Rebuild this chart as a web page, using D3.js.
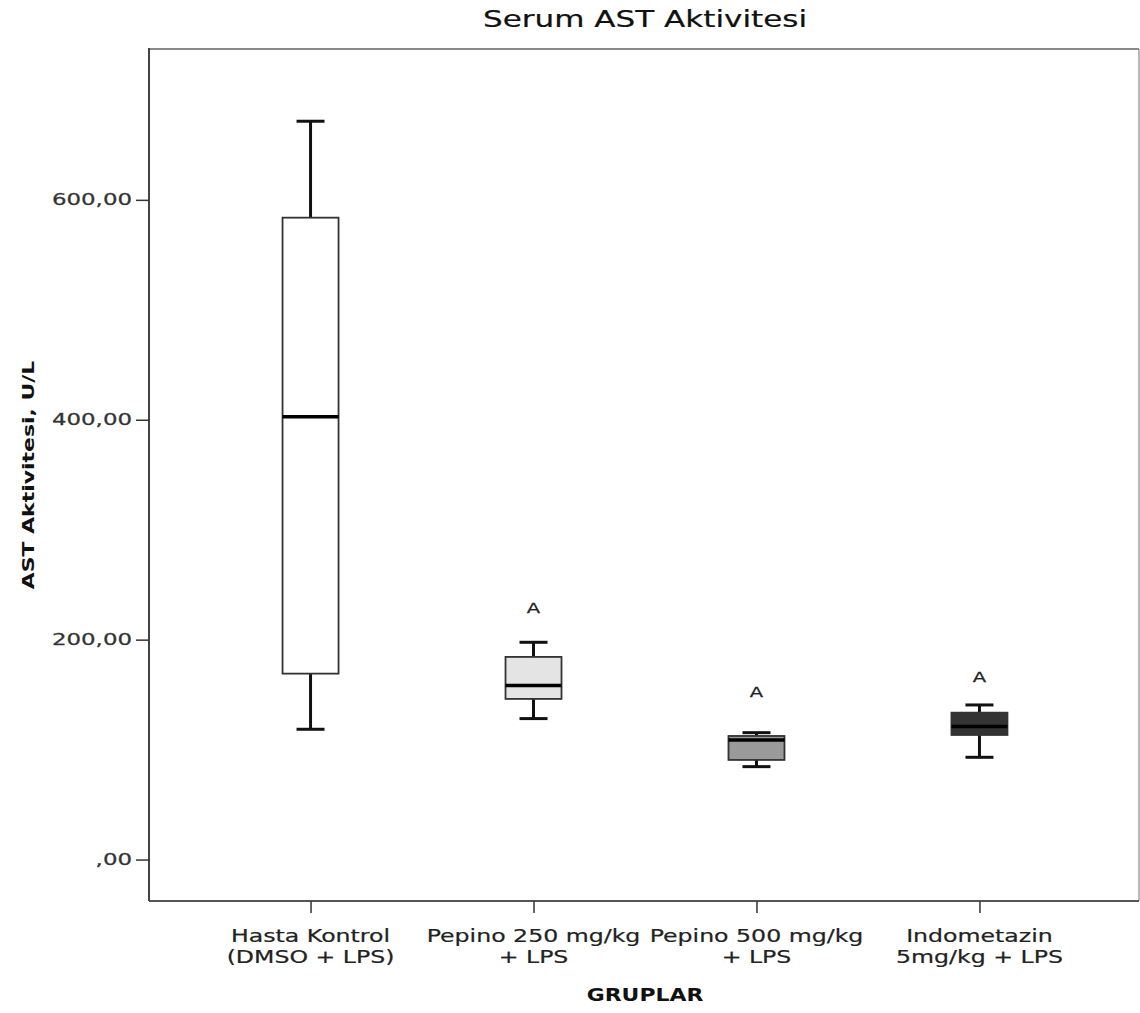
<!DOCTYPE html>
<html>
<head>
<meta charset="utf-8">
<script src="https://cdn.jsdelivr.net/npm/d3@7"></script>
<style>
  html, body { margin: 0; padding: 0; background: #fff; }
  svg { display: block; }
  text { font-family: "DejaVu Sans", Verdana, sans-serif; }
</style>
</head>
<body>
<svg id="chart" width="1140" height="1013"></svg>
<script>
// ---------------- data ----------------
const groups = ["Hasta Kontrol (DMSO + LPS)", "Pepino 250 mg/kg + LPS", "Pepino 500 mg/kg + LPS", "Indometazin 5mg/kg + LPS"];
const groupLabelLines = [["Hasta Kontrol", "(DMSO + LPS)"], ["Pepino 250 mg/kg", "+ LPS"], ["Pepino 500 mg/kg", "+ LPS"], ["Indometazin", "5mg/kg + LPS"]];
const whiskerLow  = [118.5, 128.2, 84.5, 93.0];
const q1          = [169.1, 146.1, 90.6, 113.3];
const median      = [402.8, 158.2, 108.8, 120.9];
const q3          = [583.8, 184.3, 112.4, 133.6];
const whiskerHigh = [671.5, 197.6, 115.4, 140.6];
const sigLabels   = ["", "A", "A", "A"];
const sigLabelAt  = [null, 229, 152, 166];
const yTicks      = [0, 200, 400, 600];
const yTickLabels = [",00", "200,00", "400,00", "600,00"];
const titleText   = "Serum AST Aktivitesi";
const yTitle      = "AST Aktivitesi, U/L";
const xTitle      = "GRUPLAR";

// ---------------- styles ----------------
const boxFills = ["#ffffff", "#e4e4e4", "#9a9a9a", "#333333"];

const svg = d3.select("#chart");
const frame = { left: 149, right: 1139, top: 49, bottom: 901 };

const x = d3.scalePoint().domain(groups).range([150, 1140]).padding(0.72);
const y = d3.scaleLinear().domain([-37.7, 737.2]).range([901, 49]);
const fill = d3.scaleOrdinal().domain(groups).range(boxFills);

// helper: text with horizontal stretch (the reference is rendered wide)
function label(parent, str, px, py, o) {
  const g = parent.append("g")
    .attr("transform", `translate(${px},${py})` + (o.rotate ? ` rotate(${o.rotate})` : ""));
  const t = g.append("text")
    .attr("x", 0).attr("y", 0)
    .attr("text-anchor", o.anchor || "middle")
    .attr("font-size", o.size)
    .attr("font-weight", o.weight || "normal")
    .attr("fill", o.color || "#111")
    .attr("stroke", o.color || "#111")
    .attr("stroke-width", o.stroke || 0)
    .attr("dominant-baseline", o.baseline || "auto")
    .text(str);
  t.attr("transform", `scale(${o.sx || 1},1)`);
  return t;
}

// frame
svg.append("line").attr("x1", frame.left).attr("x2", frame.right).attr("y1", frame.top).attr("y2", frame.top)
  .attr("stroke", "#8a8a8a").attr("stroke-width", 2);
svg.append("line").attr("x1", frame.right).attr("x2", frame.right).attr("y1", frame.top).attr("y2", frame.bottom)
  .attr("stroke", "#8a8a8a").attr("stroke-width", 1.2);
svg.append("line").attr("x1", frame.left).attr("x2", frame.right).attr("y1", frame.bottom).attr("y2", frame.bottom)
  .attr("stroke", "#555").attr("stroke-width", 2);
svg.append("line").attr("x1", frame.left).attr("x2", frame.left).attr("y1", frame.top - 1).attr("y2", frame.bottom)
  .attr("stroke", "#444").attr("stroke-width", 2);

// y axis ticks + labels
const yAxis = svg.append("g").attr("transform", `translate(${frame.left},0)`)
  .call(d3.axisLeft(y).tickValues(yTicks).tickSize(13).tickFormat(""));
yAxis.select(".domain").remove();
yAxis.selectAll(".tick line").attr("stroke", "#333").attr("stroke-width", 1.5);
yTicks.forEach((v, i) => {
  label(svg, yTickLabels[i], 132, y(v), { size: 16, anchor: "end", sx: 1.43, baseline: "central", color: "#333", stroke: 0.25 });
});

// x axis ticks + labels
const xAxis = svg.append("g").attr("transform", `translate(0,${frame.bottom})`)
  .call(d3.axisBottom(x).tickSize(12).tickFormat(""));
xAxis.select(".domain").remove();
xAxis.selectAll(".tick line").attr("stroke", "#333").attr("stroke-width", 1.5);
groups.forEach((gname, i) => {
  groupLabelLines[i].forEach((ln, j) => {
    label(svg, ln, x(gname), 941.5 + j * 21.5, { size: 17, sx: 1.39, color: "#222", stroke: 0.2 });
  });
});

// titles
label(svg, titleText, 645, 27, { size: 23, sx: 1.35, color: "#111", stroke: 0.2 });
label(svg, xTitle, 645, 1001, { size: 17, weight: "bold", sx: 1.29, color: "#111" });
label(svg, yTitle, 34, 475, { size: 16.5, weight: "bold", sx: 1.33, rotate: -90, color: "#111" });

// boxes
const boxW = 56;
const capW = 28;
const boxes = svg.append("g");
groups.forEach((gname, i) => {
  const cx = x(gname);
  const g = boxes.append("g");
  // whiskers
  g.append("line").attr("x1", cx).attr("x2", cx).attr("y1", y(whiskerHigh[i])).attr("y2", y(q3[i]))
    .attr("stroke", "#111").attr("stroke-width", 3);
  g.append("line").attr("x1", cx).attr("x2", cx).attr("y1", y(q1[i])).attr("y2", y(whiskerLow[i]))
    .attr("stroke", "#111").attr("stroke-width", 3);
  g.append("line").attr("x1", cx - capW / 2).attr("x2", cx + capW / 2).attr("y1", y(whiskerHigh[i])).attr("y2", y(whiskerHigh[i]))
    .attr("stroke", "#111").attr("stroke-width", 3);
  g.append("line").attr("x1", cx - capW / 2).attr("x2", cx + capW / 2).attr("y1", y(whiskerLow[i])).attr("y2", y(whiskerLow[i]))
    .attr("stroke", "#111").attr("stroke-width", 3);
  // box
  g.append("rect").attr("x", cx - boxW / 2).attr("width", boxW)
    .attr("y", y(q3[i])).attr("height", y(q1[i]) - y(q3[i]))
    .attr("fill", fill(gname)).attr("stroke", "#333").attr("stroke-width", 1.8);
  // median
  g.append("line").attr("x1", cx - boxW / 2).attr("x2", cx + boxW / 2).attr("y1", y(median[i])).attr("y2", y(median[i]))
    .attr("stroke", "#000").attr("stroke-width", 3.5);
  // significance label
  if (sigLabels[i]) {
    label(svg, sigLabels[i], cx, y(sigLabelAt[i]), { size: 14.5, sx: 1.35, baseline: "central", color: "#222", stroke: 0.25 });
  }
});
</script>
</body>
</html>
